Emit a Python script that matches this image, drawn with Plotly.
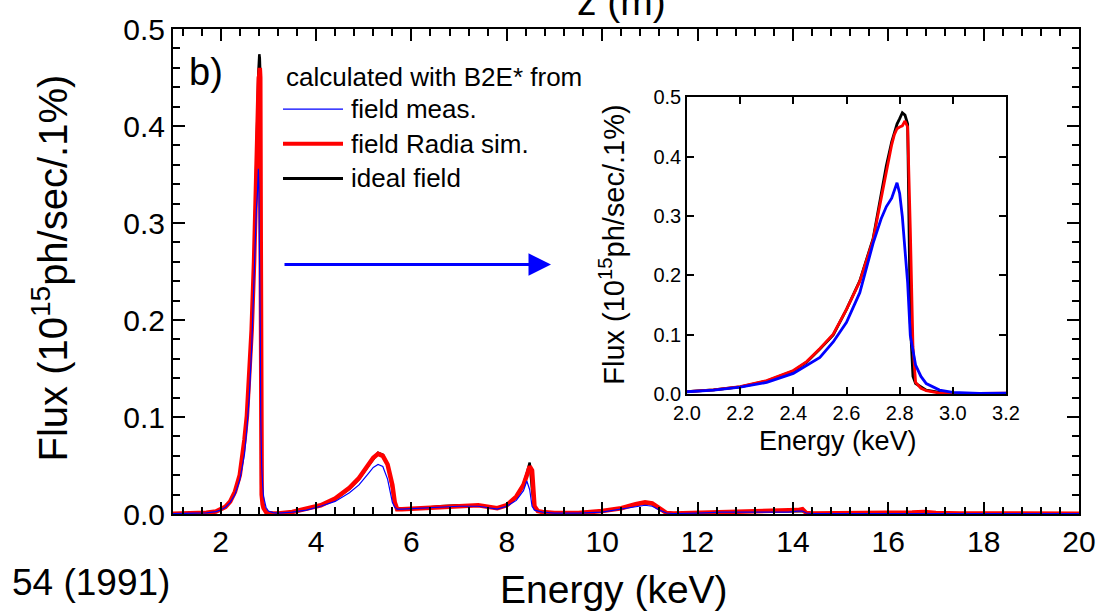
import plotly.graph_objects as go

# ---------------- data ----------------
energy = [
    1.0, 1.4, 1.7, 1.9, 2.0, 2.1, 2.2, 2.3, 2.4, 2.45,
    2.5, 2.55, 2.6, 2.65, 2.7, 2.73, 2.75, 2.77, 2.78, 2.79,
    2.8, 2.81, 2.82, 2.83, 2.84, 2.85, 2.86, 2.88, 2.9, 2.95,
    3.0, 3.1, 3.2, 3.5, 3.8, 4.1, 4.4, 4.7, 4.9, 5.1,
    5.2, 5.3, 5.4, 5.5, 5.6, 5.65, 5.7, 5.8, 6.2, 6.6,
    7.0, 7.4, 7.8, 8.0, 8.2, 8.35, 8.42, 8.48, 8.53, 8.58,
    8.65, 8.75, 9.0, 9.5, 10.0, 10.4, 10.7, 10.9, 11.05, 11.2,
    11.35, 11.5, 12.0, 12.5, 13.0, 13.5, 13.9, 14.1, 14.2, 14.28,
    14.4, 15.0, 16.0, 16.5, 16.75, 17.0, 17.5, 18.5, 20.0,
]

flux_ideal = [
    0.0003, 0.0006, 0.0012, 0.0025, 0.0045, 0.0072, 0.0125, 0.022, 0.039, 0.054,
    0.076, 0.100, 0.143, 0.191, 0.262, 0.335, 0.385, 0.425, 0.440, 0.455,
    0.464, 0.474, 0.470, 0.455, 0.120, 0.030, 0.018, 0.012, 0.007, 0.003,
    0.0015, 0.0008, 0.0006, 0.002, 0.005, 0.009, 0.015, 0.026, 0.036, 0.050,
    0.057, 0.063, 0.061, 0.051, 0.026, 0.011, 0.005, 0.005, 0.006, 0.008,
    0.009, 0.009, 0.006, 0.009, 0.018, 0.031, 0.042, 0.053, 0.025, 0.006,
    0.003, 0.002, 0.001, 0.001, 0.003, 0.006, 0.0095, 0.011, 0.010, 0.005,
    0.001, 0.0005, 0.001, 0.002, 0.0025, 0.0025, 0.0025, 0.003, 0.003, 0.001,
    0.0005, 0.0005, 0.0008, 0.0012, 0.0015, 0.001, 0.0005, 0.0003, 0.0003,
]

flux_radia = [
    0.0003, 0.0006, 0.0012, 0.0025, 0.0045, 0.0074, 0.013, 0.023, 0.040, 0.055,
    0.077, 0.101, 0.143, 0.190, 0.260, 0.330, 0.380, 0.420, 0.437, 0.447,
    0.450, 0.452, 0.460, 0.450, 0.280, 0.080, 0.020, 0.010, 0.006, 0.002,
    0.001, 0.0006, 0.0005, 0.002, 0.005, 0.009, 0.016, 0.027, 0.037, 0.051,
    0.058, 0.062, 0.060, 0.051, 0.030, 0.012, 0.005, 0.005, 0.006, 0.008,
    0.009, 0.009, 0.006, 0.009, 0.018, 0.030, 0.040, 0.049, 0.045, 0.008,
    0.003, 0.002, 0.001, 0.001, 0.003, 0.006, 0.010, 0.012, 0.011, 0.006,
    0.001, 0.0005, 0.001, 0.002, 0.003, 0.003, 0.003, 0.004, 0.005, 0.001,
    0.0005, 0.0005, 0.001, 0.0015, 0.002, 0.001, 0.0005, 0.0003, 0.0003,
]

flux_meas = [
    0.0003, 0.0006, 0.0012, 0.0024, 0.0042, 0.007, 0.012, 0.020, 0.035, 0.048,
    0.062, 0.088, 0.121, 0.171, 0.254, 0.295, 0.316, 0.330, 0.345, 0.356,
    0.338, 0.299, 0.243, 0.188, 0.099, 0.070, 0.049, 0.030, 0.018, 0.007,
    0.003, 0.0015, 0.001, 0.002, 0.004, 0.008, 0.013, 0.022, 0.030, 0.042,
    0.048, 0.051, 0.049, 0.036, 0.012, 0.007, 0.005, 0.005, 0.006, 0.007,
    0.008, 0.008, 0.005, 0.008, 0.014, 0.024, 0.034, 0.025, 0.008, 0.004,
    0.003, 0.002, 0.001, 0.001, 0.002, 0.005, 0.008, 0.009, 0.008, 0.004,
    0.001, 0.0005, 0.001, 0.002, 0.002, 0.002, 0.002, 0.003, 0.003, 0.001,
    0.0005, 0.0005, 0.0005, 0.001, 0.001, 0.0005, 0.0003, 0.0003, 0.0003,
]

assert len(energy) == len(flux_ideal) == len(flux_radia) == len(flux_meas)

series_names = ["field meas.", "field Radia sim.", "ideal field"]
legend_title = "calculated with B2E* from"
x_title = "Energy (keV)"
y_title = "Flux (10<sup>15</sup>ph/sec/.1%)"

# ---------------- layout geometry ----------------
W, H = 1113, 615
L, R, T, B = 173, 1079, 24, 514   # main plot area in pixels
PW, PH = R - L, B - T


def px(x):
    return (x - L) / PW


def py(y):
    return (B - y) / PH


FONT = "Arial, Liberation Sans, sans-serif"

fig = go.Figure()

# main plot: black, red, blue (blue on top)
fig.add_trace(go.Scatter(x=energy, y=flux_ideal, mode="lines", name=series_names[2],
                         line=dict(color="black", width=2.5), xaxis="x", yaxis="y"))
fig.add_trace(go.Scatter(x=energy, y=flux_radia, mode="lines", name=series_names[1],
                         line=dict(color="#ff0000", width=4.5), xaxis="x", yaxis="y"))
fig.add_trace(go.Scatter(x=energy, y=flux_meas, mode="lines", name=series_names[0],
                         line=dict(color="#0000ff", width=1.2), xaxis="x", yaxis="y"))

# inset
fig.add_trace(go.Scatter(x=energy, y=flux_ideal, mode="lines", showlegend=False,
                         line=dict(color="black", width=2.8), xaxis="x2", yaxis="y2"))
fig.add_trace(go.Scatter(x=energy, y=flux_radia, mode="lines", showlegend=False,
                         line=dict(color="#ff0000", width=2.8), xaxis="x2", yaxis="y2"))
fig.add_trace(go.Scatter(x=energy, y=flux_meas, mode="lines", showlegend=False,
                         line=dict(color="#0000ff", width=2.8), xaxis="x2", yaxis="y2"))

main_axis = dict(showline=True, linecolor="black", linewidth=2, mirror="allticks",
                 ticks="inside", tickcolor="black", tickwidth=2, ticklen=12,
                 showgrid=False, zeroline=False,
                 tickfont=dict(family=FONT, size=30, color="black"))
inset_axis = dict(showline=True, linecolor="black", linewidth=1.5, mirror="allticks",
                  ticks="inside", tickcolor="black", tickwidth=1.5, ticklen=7,
                  showgrid=False, zeroline=False,
                  tickfont=dict(family=FONT, size=20, color="black"))

fig.update_layout(
    width=W, height=H,
    margin=dict(l=L, r=W - R, t=T, b=H - B, pad=0),
    paper_bgcolor="white", plot_bgcolor="white",
    showlegend=False,
    xaxis=dict(main_axis, range=[1, 20], dtick=2, tick0=0, domain=[0, 1],
               minor=dict(dtick=0.4, ticks="inside", ticklen=7, tickwidth=2,
                          tickcolor="black")),
    yaxis=dict(main_axis, range=[0, 0.5], dtick=0.1, tickformat=".1f", domain=[0, 1],
               minor=dict(dtick=0.02, ticks="inside", ticklen=7, tickwidth=2,
                          tickcolor="black")),
    xaxis2=dict(inset_axis, range=[2.0, 3.2], dtick=0.2, tick0=0, tickformat=".1f",
                anchor="y2", domain=[px(687), px(1006)]),
    yaxis2=dict(inset_axis, range=[0, 0.5], dtick=0.1, tickformat=".1f",
                anchor="x2", domain=[py(393), py(93)]),
)

ann = []
# axis titles (main)
ann.append(dict(text=x_title, x=px(614), y=py(590), xref="paper", yref="paper",
                showarrow=False, xanchor="center", yanchor="middle",
                font=dict(family=FONT, size=39, color="black")))
ann.append(dict(text=y_title, x=px(50), y=py(266), xref="paper", yref="paper",
                showarrow=False, xanchor="center", yanchor="middle", textangle=-90,
                font=dict(family=FONT, size=40, color="black")))
# inset titles
ann.append(dict(text=x_title, x=px(838), y=py(440), xref="paper", yref="paper",
                showarrow=False, xanchor="center", yanchor="middle",
                font=dict(family=FONT, size=27, color="black")))
ann.append(dict(text=y_title, x=px(612), y=py(242), xref="paper", yref="paper",
                showarrow=False, xanchor="center", yanchor="middle", textangle=-90,
                font=dict(family=FONT, size=29, color="black")))
# panel label
ann.append(dict(text="b)", x=px(187), y=py(67), xref="paper", yref="paper",
                showarrow=False, xanchor="left", yanchor="middle",
                font=dict(family=FONT, size=38, color="black")))
# cut-off text from neighbouring panels
ann.append(dict(text="z (m)", x=px(621), y=py(20), xref="paper", yref="paper",
                showarrow=False, xanchor="center", yanchor="bottom",
                font=dict(family=FONT, size=39, color="black")))
ann.append(dict(text="54 (1991)", x=px(172), y=py(583), xref="paper", yref="paper",
                showarrow=False, xanchor="right", yanchor="middle",
                font=dict(family=FONT, size=37, color="black")))
# legend text
ann.append(dict(text=legend_title, x=px(284), y=py(72), xref="paper", yref="paper",
                showarrow=False, xanchor="left", yanchor="middle",
                font=dict(family=FONT, size=26, color="black")))
legend_rows = [(series_names[0], "#0000ff", 1.2, 105),
               (series_names[1], "#ff0000", 4, 140),
               (series_names[2], "black", 3, 175)]
shapes = []
for name, col, w, yy in legend_rows:
    shapes.append(dict(type="line", xref="paper", yref="paper",
                       x0=px(283), x1=px(343), y0=py(yy), y1=py(yy),
                       line=dict(color=col, width=w)))
    ann.append(dict(text=name, x=px(349), y=py(yy), xref="paper", yref="paper",
                    showarrow=False, xanchor="left", yanchor="middle",
                    font=dict(family=FONT, size=26, color="black")))
# arrow pointing to the inset
ann.append(dict(text="", x=px(551), y=py(262), xref="paper", yref="paper",
                showarrow=True, ax=-(551 - 283), ay=0, axref="pixel", ayref="pixel",
                arrowhead=2, arrowsize=1.5, arrowwidth=3, arrowcolor="#0000ff",
                standoff=0, startstandoff=0))

fig.update_layout(annotations=ann, shapes=shapes)

fig.write_html("out.html")
